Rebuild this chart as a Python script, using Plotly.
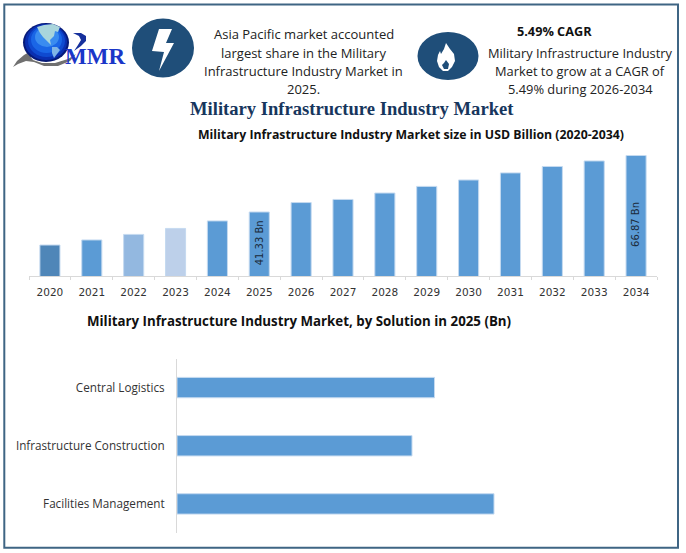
import plotly.graph_objects as go

W, H = 686, 553
years = [str(y) for y in range(2020, 2035)]
market_size = [26.4, 28.7, 31.2, 33.9, 37.3, 41.33, 45.6, 47.0, 49.9, 52.9, 55.8, 59.0, 61.9, 64.4, 66.87]
bar_colors = ["#4f86b8", "#5b9bd5", "#93b8e0", "#bdd0ea"] + ["#5b9bd5"] * 11
label_years = ["2025", "2034"]
label_texts = ["41.33 Bn", "66.87 Bn"]
label_heights = [27.3, 35.5]
solutions = ["Facilities Management", "Infrastructure Construction", "Central Logistics"]
solution_values = [317, 235, 257.5]

FONT = "Open Sans, Noto Sans, sans-serif"
NAVY = "#1f4e79"


def X(v):
    return v / W


def Y(v):
    return 1 - v / H


def path(points, fill):
    d = "M " + " L ".join(f"{X(a):.5f},{Y(b):.5f}" for a, b in points) + " Z"
    return dict(type="path", xref="paper", yref="paper", path=d, fillcolor=fill,
                line=dict(width=0), layer="above")


def oval(x0, y0, x1, y1, fill):
    return dict(type="circle", xref="paper", yref="paper", x0=X(x0), x1=X(x1), y0=Y(y1), y1=Y(y0),
                fillcolor=fill, line=dict(width=0), layer="above")


shapes = [
    dict(type="rect", xref="paper", yref="paper", x0=X(4.3), x1=X(678), y0=Y(547.8), y1=Y(4.6),
         fillcolor="rgba(0,0,0,0)", line=dict(color="#3f6584", width=2), layer="below"),
    # logo swoosh
    path([(13, 67), (17, 61), (24, 55), (31, 51), (30, 56), (33, 60), (42, 63), (55, 63), (68, 59), (76, 54),
          (70, 61), (58, 66), (44, 66), (34, 62), (26, 61), (18, 64)], "#707070"),
    # logo globe
    oval(23, 23, 69, 62, "#061a78"),
    oval(25, 24, 67, 60, "#0a2fb0"),
    oval(28, 25, 65, 57, "#0f4ad0"),
    oval(31, 26, 62, 53, "#1a66e6"),
    oval(35, 27, 59, 47, "#3a8cf0"),
    # North and South America
    path([(37, 27), (44, 25), (53, 24), (60, 27), (58, 32), (55, 31), (54, 36), (50, 40), (51, 45), (47, 41),
          (43, 37), (40, 33)], "#a9d5dc"),
    path([(52, 47), (57, 47), (60, 50), (57, 54), (54, 58), (52, 53)], "#7fb4e6"),
    # logo curl
    path([(73, 33), (81, 33), (86, 36), (86, 41), (81, 46), (74, 51), (78, 45), (81, 40), (79, 36)], "#16309c"),
    # lightning badge
    oval(132, 18.5, 194, 77.5, NAVY),
    path([(159, 29), (172, 29), (166, 43), (174, 43), (159, 71), (164, 52), (152, 51)], "white"),
    # flame badge
    oval(417.5, 32, 478.5, 80, NAVY),
    path([(446, 43), (450, 49), (454, 54), (455, 61), (452, 67), (448, 71), (443, 71), (439, 67), (437, 61), (438, 55),
          (440, 51), (441, 54), (444, 49)], "white"),
    path([(446, 60), (449, 64), (448, 69), (444, 69), (442, 65), (444, 63)], NAVY),
]

annotations = []


def text(x, y, s, size, color="#222222", bold=False, family=FONT):
    annotations.append(dict(xref="paper", yref="paper", x=X(x), y=Y(y), text=f"<b>{s}</b>" if bold else s,
                            showarrow=False, xanchor="center", yanchor="middle",
                            font=dict(size=size, color=color, family=family)))


for i, line in enumerate(["Asia Pacific market accounted", "largest share in the Military",
                          "Infrastructure Industry Market in", "2025."]):
    text(303.5, 34.5 + i * 18.2, line, 13)
text(554, 31, "5.49% CAGR", 12.7, "#111111", True)
for i, line in enumerate(["Military Infrastructure Industry", "Market to grow at a CAGR of", "5.49% during 2026-2034"]):
    text(580, 53.2 + i * 18, line, 12.85)
text(351.5, 108.5, "Military Infrastructure Industry Market", 18.6, "#17365d", True, "Liberation Serif")
text(411, 134.5, "Military Infrastructure Industry Market size in USD Billion (2020-2034)", 12.3, "#111111", True)
text(299, 321, "Military Infrastructure Industry Market, by Solution in 2025 (Bn)", 13.3, "#111111", True)
text(95, 56.5, "MMR", 23, "#1a36c8", True, "Liberation Serif")

for yr, lab, h in zip(label_years, label_texts, label_heights):
    annotations.append(dict(xref="x", yref="y", x=years.index(yr), y=h, text=lab, textangle=-90, showarrow=False,
                            xanchor="center", yanchor="middle",
                            font=dict(size=10, color="#1a2a3a", family="DejaVu Sans")))

fig = go.Figure()
fig.add_trace(go.Bar(x=years, y=market_size, marker=dict(color=bar_colors, line=dict(color="#c5daf0", width=1)),
                     width=0.48, xaxis="x", yaxis="y", showlegend=False))
fig.add_trace(go.Bar(y=solutions, x=solution_values, orientation="h",
                     marker=dict(color="#5b9bd5", line=dict(color="#c5daf0", width=1)),
                     width=0.35, xaxis="x2", yaxis="y2", showlegend=False))

fig.update_layout(
    width=W, height=H, margin=dict(l=0, r=0, t=0, b=0), paper_bgcolor="white", plot_bgcolor="white",
    shapes=shapes, annotations=annotations,
    xaxis=dict(domain=[X(29), X(657)], type="category", range=[-0.5, len(years) - 0.5], showline=True,
               linecolor="#d9d9d9", ticks="outside", tickcolor="#d9d9d9", ticklen=3, ticklabelstandoff=6,
               tickfont=dict(size=10.5, color="#333333", family="DejaVu Sans"), tickangle=0,
               showgrid=False, tickson="boundaries", fixedrange=True),
    yaxis=dict(domain=[Y(276), Y(150)], range=[12.4, 69.35], visible=False, fixedrange=True),
    xaxis2=dict(domain=[X(177), X(520)], range=[0, 343], visible=False, fixedrange=True, anchor="y2"),
    yaxis2=dict(domain=[Y(533), Y(358.5)], type="category", anchor="x2", showline=True, linecolor="#d9d9d9",
                showgrid=False, ticks="", ticklabelstandoff=9,
                tickfont=dict(size=11.7, color="#333333", family=FONT), fixedrange=True),
)

fig.write_html("out.html", config=dict(displayModeBar=False),
               post_script="document.body.style.margin='0';document.documentElement.style.overflow='hidden';")
